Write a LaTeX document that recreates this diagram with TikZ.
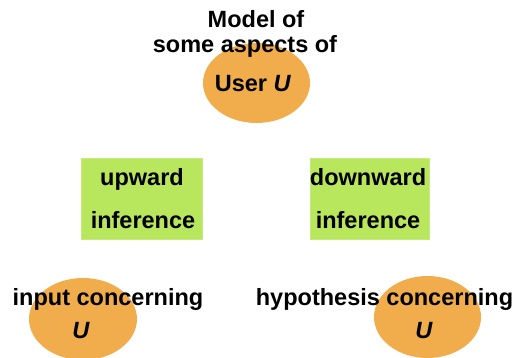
\documentclass[tikz,border=0pt]{standalone}
\usepackage{fontspec}
\setmainfont{Liberation Sans}
\definecolor{blob}{RGB}{241,173,76}
\definecolor{leaf}{RGB}{184,230,92}
\begin{document}
\begin{tikzpicture}[x=1pt,y=-1pt,
  blobshape/.style={fill=blob,draw=none},
  leafbox/.style={fill=leaf,draw=leaf!80!white,line width=0.6pt},
  lbl/.style={anchor=base,inner sep=0pt,font=\fontsize{23.5}{25}\selectfont\bfseries}]
\useasboundingbox (0,0) rectangle (513,358);
\clip (0,0) rectangle (513,358);
% user model blob and its caption
\fill[blobshape] (256.5,83) ellipse [x radius=53.5, y radius=40];
\node[lbl] (cap1) at (256,28) {Model of};
\node[lbl] (cap2) at (245,53) {some aspects of};
\node[lbl] (user) at (253,92) {User \textit{U}};
% inference boxes
\draw[leafbox] (81,158) rectangle (202,239);
\draw[leafbox] (310,158) rectangle (429,239);
\node[lbl] (up1) at (142,185) {upward};
\node[lbl] (up2) at (143,228) {inference};
\node[lbl] (dn1) at (368,185) {downward};
\node[lbl] (dn2) at (368,228) {inference};
% lower blobs
\fill[blobshape] (83,319) ellipse [x radius=54, y radius=41];
\fill[blobshape] (427.5,317) ellipse [x radius=53.5, y radius=41];
\node[lbl] (in1) at (108,305) {input concerning};
\node[lbl] (in2) at (81,338) {\textit{U}};
\node[lbl] (hy1) at (384.5,305) {hypothesis concerning};
\node[lbl] (hy2) at (424,338) {\textit{U}};
\end{tikzpicture}
\end{document}
